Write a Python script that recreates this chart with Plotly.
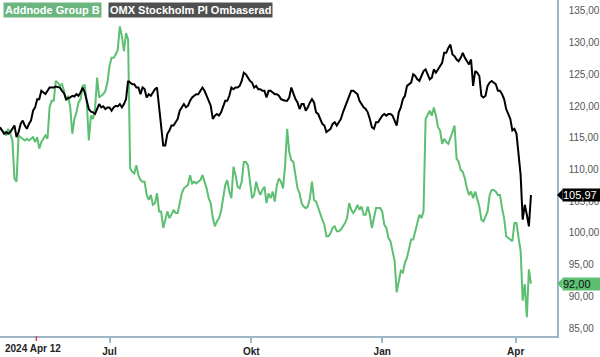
import plotly.graph_objects as go

# ---------------- data (trading-day index from 2024-04-12) ----------------
omx = [
    116.67, 116.15, 115.63, 115.89, 115.63, 115.89, 116.41, 116.93, 115.10, 115.89,
    117.19, 117.71, 116.93, 116.41, 117.19, 117.71, 119.27, 119.79, 121.09, 121.09,
    122.40, 122.14, 121.88, 122.40, 122.92, 122.92, 122.92, 123.07, 123.02, 122.92,
    122.40, 122.03, 121.09, 121.20, 121.36, 121.62, 121.51, 121.88, 121.62, 122.14,
    122.92, 122.14, 120.83, 119.53, 119.11, 119.01, 118.75, 119.53, 120.31, 119.79,
    119.95, 119.53, 119.79, 119.79, 119.27, 119.79, 120.05, 119.95, 120.31, 119.79,
    120.31, 121.09, 123.96,
    123.70, 123.44, 123.44, 122.92, 122.92, 121.88, 122.92, 122.66, 121.36, 121.88,
    121.62, 122.14, 122.66, 122.92, 120.05, 117.45, 113.80, 113.80, 115.63, 116.15,
    116.93, 116.93, 117.45, 117.97, 119.27, 119.79, 120.31, 119.79, 120.05, 120.83,
    121.36, 121.62, 121.88, 121.88, 122.40, 122.92, 122.40, 121.62, 121.09, 120.05,
    117.97, 118.49, 118.75, 118.49, 119.01, 119.79, 120.83, 120.83, 121.62, 122.92,
    122.66, 122.92, 122.92, 123.18, 123.96, 125.26, 125.00, 124.48, 123.96, 123.70,
    122.92, 123.18, 122.66,
    122.66, 122.40, 122.40, 121.36, 122.40, 122.40, 122.14, 121.88, 121.88, 121.62,
    121.09, 120.94, 120.83, 120.83, 121.36, 122.92, 121.88, 121.09, 120.57, 119.53,
    120.31, 120.31, 119.27, 119.79, 120.57, 121.09, 120.57, 119.01, 118.75, 117.97,
    117.19, 116.93, 115.89, 116.15, 116.41, 117.19, 117.45, 116.93, 117.45, 117.97,
    119.01, 119.79, 120.83, 121.62, 122.40, 122.40, 122.14, 121.88, 120.83, 120.31,
    119.79, 119.53, 119.01, 117.97, 116.67, 116.41, 117.45, 117.45, 117.97, 118.49,
    118.75, 118.49, 118.75,
    118.75, 118.49, 117.71, 116.93, 119.01, 119.79, 121.09, 121.62, 123.18, 123.44,
    123.70, 125.00, 124.74, 124.22, 123.96, 124.74, 125.52, 125.78, 125.00, 124.22,
    124.48, 125.78, 125.26, 125.78, 126.30, 126.82, 128.39, 128.39, 129.17, 129.69,
    128.13, 127.87, 127.34, 127.08, 127.60, 128.39, 127.60, 127.08, 126.56, 127.34,
    123.18, 125.52, 125.26, 124.74, 121.62, 121.36, 121.62, 123.18, 123.70, 123.96,
    123.70, 123.44, 122.40, 122.40, 121.88, 121.09, 119.53, 118.75, 117.97, 116.15,
    116.41, 115.63, 112.76, 109.11, 102.08, 104.43, 102.86, 101.04, 105.97,
]

addnode = [
    116.41, 116.15, 115.89, 115.36, 116.41, 115.63, 114.58, 108.59, 108.07, 115.36,
    115.10, 114.84, 114.58, 114.84, 114.58, 114.84, 115.10, 114.32, 115.10, 113.28,
    114.32, 114.84, 115.36, 114.84, 119.79, 120.83, 120.83, 123.96, 123.70, 123.18,
    123.44, 122.40, 120.83, 121.62, 119.79, 115.63, 117.97, 119.01, 120.57, 121.09,
    123.18, 123.28, 120.57, 114.58, 118.49, 117.97, 119.53, 124.48, 121.36, 121.62,
    121.88, 122.40, 123.70, 126.30, 127.60, 127.60, 128.13, 128.91, 132.55, 130.99,
    128.65, 131.51, 130.47,
    110.16, 109.63, 109.37, 110.68, 109.11, 108.33, 108.07, 108.07, 105.99, 105.21,
    105.99, 104.43, 104.69, 106.25, 103.39, 103.39, 100.78, 102.34, 103.39, 102.34,
    102.86, 103.65, 103.13, 103.13, 104.95, 106.25, 107.03, 107.29, 107.55, 109.11,
    107.81, 108.07, 107.81, 108.07, 108.33, 109.11, 108.07, 107.03, 105.47, 104.69,
    102.34, 101.04, 101.82, 102.34, 103.39, 105.21, 107.55, 108.33, 106.51, 105.47,
    110.42, 109.11, 107.29, 107.03, 108.07, 111.20, 111.20, 110.68, 108.07, 105.47,
    105.99, 108.07, 106.77,
    105.99, 106.77, 107.29, 104.69, 106.25, 105.47, 106.51, 104.95, 107.55, 108.59,
    108.07, 107.03, 110.68, 116.41, 112.76, 111.46, 111.20, 109.11, 107.03, 106.25,
    104.69, 104.17, 103.91, 104.17, 105.47, 108.07, 105.21, 104.95, 103.91, 103.13,
    102.08, 101.30, 99.48, 99.48, 100.00, 100.78, 101.04, 100.26, 100.26, 100.52,
    101.04, 101.56, 102.34, 104.69, 103.65, 103.13, 103.65, 104.43, 103.65, 104.17,
    102.86, 102.86, 104.17, 102.86, 100.78, 102.34, 103.91, 103.91, 103.91, 103.39,
    101.30, 100.78, 99.22,
    98.70, 97.14, 95.57, 90.62, 92.45, 94.01, 93.75, 95.31, 96.09, 97.66,
    98.96, 98.96, 100.26, 101.82, 102.86, 102.34, 103.39, 117.97, 118.75, 119.27,
    118.49, 119.79, 118.49, 116.67, 116.15, 114.06, 114.84, 114.32, 114.06, 114.84,
    115.89, 116.93, 111.72, 111.20, 109.90, 109.63, 108.59, 107.03, 105.99, 106.51,
    105.47, 106.51, 105.47, 104.17, 102.08, 101.82, 102.60, 103.39, 105.99, 106.77,
    106.77, 106.51, 105.99, 105.99, 103.91, 102.34, 99.48, 99.22, 98.96, 98.70,
    101.56, 101.56, 99.22, 97.14, 89.32, 91.93, 86.72, 94.27, 92.00,
]

series_names = ["Addnode Group B", "OMX Stockholm PI Ombaserad"]
start_label = "2024 Apr 12"
tick_labels = ["Jul", "Okt", "Jan", "Apr"]
tick_index = [53, 121.6, 185, 249.6]
marker_index = 17.6          # red marker tick on the time axis
y_ticks = [85, 90, 95, 100, 105, 110, 115, 120, 125, 130, 135]

# ---------------- styling ----------------
GREEN = "#5dbf72"
GREEN_BOX = "#6cb57f"
DARK_BOX = "#505050"
AXIS = "#9db7c9"
FONT = "Liberation Sans, Arial, sans-serif"
X_RANGE = [0, 269.6]
Y_RANGE = [83.75, 136.72]

days = list(range(len(omx)))

fig = go.Figure()
fig.add_trace(go.Scatter(x=days, y=addnode, mode="lines", name=series_names[0],
                         line=dict(color=GREEN, width=2), hoverinfo="skip"))
fig.add_trace(go.Scatter(x=days, y=omx, mode="lines", name=series_names[1],
                         line=dict(color="#000000", width=2), hoverinfo="skip"))

def fmt(v):
    return f"{v:.2f}".replace(".", ",")

fig.update_layout(
    width=600, height=357,
    margin=dict(l=0, r=42, t=0, b=18),
    paper_bgcolor="white", plot_bgcolor="white",
    showlegend=False,
    font=dict(family=FONT),
    xaxis=dict(range=X_RANGE, showgrid=False, zeroline=False,
               showline=True, linecolor=AXIS, linewidth=1.5,
               ticks="outside", ticklen=5, tickwidth=1.5, tickcolor=AXIS,
               tickvals=tick_index, ticktext=tick_labels,
               tickfont=dict(size=10, color="#222222", family=FONT, weight="bold")),
    yaxis=dict(range=Y_RANGE, side="right", showgrid=False, zeroline=False,
               showline=True, linecolor=AXIS, linewidth=1.5, ticks="",
               tickvals=y_ticks, ticktext=[fmt(v) for v in y_ticks],
               ticklabelstandoff=8,
               tickfont=dict(size=10, color="#555555", family=FONT)),
)

# legend boxes
fig.add_annotation(xref="paper", yref="paper", x=3 / 558, y=1, xanchor="left", yanchor="top",
                   yshift=-2, text=series_names[0], showarrow=False, bgcolor=GREEN_BOX,
                   borderpad=1, font=dict(size=11, color="white", family=FONT, weight="bold"))
fig.add_annotation(xref="paper", yref="paper", x=108 / 558, y=1, xanchor="left", yanchor="top",
                   yshift=-2, text=series_names[1], showarrow=False, bgcolor=DARK_BOX,
                   borderpad=1, font=dict(size=11, color="white", family=FONT, weight="bold"))

# start date label
fig.add_annotation(xref="paper", yref="paper", x=3 / 558, y=0, xanchor="left", yanchor="top",
                   yshift=-5, text=start_label, showarrow=False,
                   font=dict(size=10, color="#222222", family=FONT, weight="bold"))

# red marker tick
mx = (marker_index - X_RANGE[0]) / (X_RANGE[1] - X_RANGE[0])
fig.add_shape(type="line", xref="paper", yref="paper", x0=mx, x1=mx, y0=0, y1=-5 / 339,
              line=dict(color="#e0404a", width=1.5))

# last value badges
def yp(v):
    return (v - Y_RANGE[0]) / (Y_RANGE[1] - Y_RANGE[0])

for val, bg, fg in [(omx[-1], "#000000", "white"), (addnode[-1], GREEN, "#111111")]:
    fig.add_annotation(xref="paper", yref="y", x=1, y=val, xanchor="left", yanchor="middle",
                       xshift=5, text=fmt(val), showarrow=False, bgcolor=bg, borderpad=0,
                       width=37, align="left",
                       font=dict(size=11, color=fg, family=FONT))
    yc = yp(val)
    h = 5.5 / 339
    fig.add_shape(type="path", xref="paper", yref="paper",
                  path=f"M 1 {yc} L {1 + 5.5/558} {yc + h} L {1 + 5.5/558} {yc - h} Z",
                  fillcolor=bg, line=dict(width=0))

fig.write_html("out.html", config={"displayModeBar": False},
               post_script="document.body.style.margin='0';")
